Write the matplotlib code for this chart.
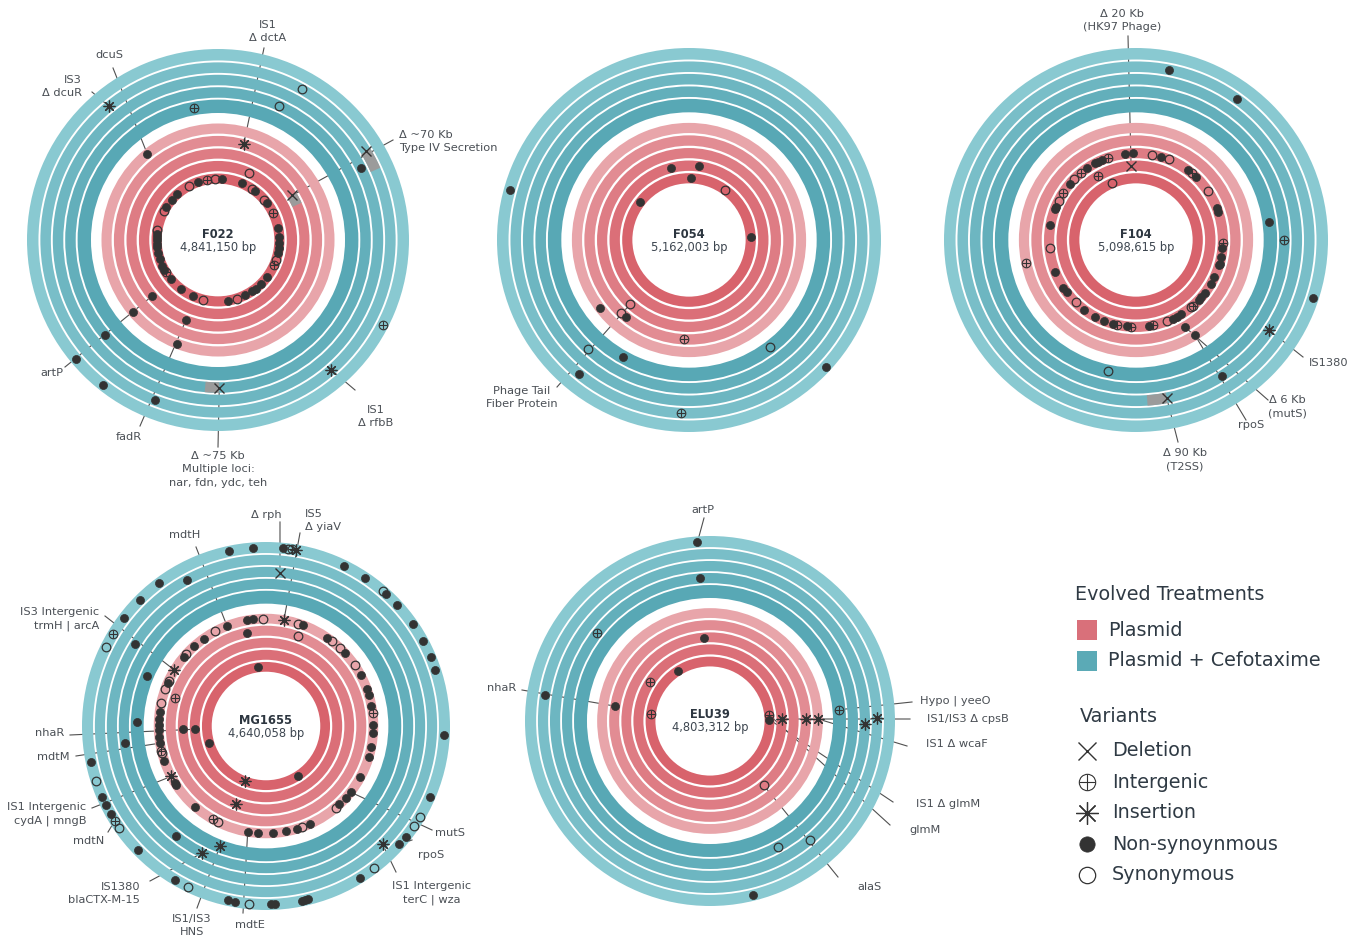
import numpy as np
import matplotlib
matplotlib.use("Agg")
import matplotlib.pyplot as plt
from matplotlib.patches import Wedge, Rectangle

# ------------------------------------------------------------------ data
genome_names = ["F022", "F054", "F104", "MG1655", "ELU39"]
genome_sizes = ["4,841,150 bp", "5,162,003 bp", "5,098,615 bp", "4,640,058 bp", "4,803,312 bp"]

# variants: (position on genome in degrees clockwise from origin, ring, kind)
# ring 1-5 = Plasmid replicates (inner->outer), 6-10 = Plasmid + Cefotaxime
# kind: N non-synonymous, S synonymous, I intergenic, A insertion, D deletion
F022_variants = [
    (340.5, 1, "N"), (350, 1, "I"), (357, 1, "S"), (3.5, 1, "N"), (331.4, 1, "S"),
    (318, 1, "N"), (310.8, 1, "N"), (302.5, 1, "N"), (297.7, 1, "S"), (22.9, 1, "N"),
    (33.6, 1, "S"), (37.5, 1, "N"), (49.2, 1, "S"), (52.6, 1, "N"), (64, 1, "I"),
    (79, 1, "N"), (87, 1, "N"), (92.6, 1, "N"), (97.8, 1, "N"), (102.4, 1, "N"),
    (108.8, 1, "S"), (114.4, 1, "I"), (126.6, 1, "N"), (135.2, 1, "N"), (142.3, 1, "N"),
    (146.5, 1, "N"), (153.7, 1, "N"), (162.4, 1, "S"), (170.7, 1, "N"), (193.9, 1, "S"),
    (203.8, 1, "N"), (217.4, 1, "N"), (230.3, 1, "N"), (238.2, 1, "I"), (241, 1, "N"),
    (245, 1, "N"), (251.9, 1, "N"), (257.9, 1, "N"), (263.9, 1, "N"), (266, 1, "N"),
    (270, 1, "N"), (273, 1, "N"), (276, 1, "N"), (279.2, 1, "S"),
    (24.4, 2, "S"),
    (229.6, 3, "N"), (201.8, 3, "N"), (59, 3, "D"),
    (15, 4, "A"),
    (320.6, 5, "N"), (229.7, 5, "N"), (201.6, 5, "N"),
    (349.8, 6, "I"),
    (24.3, 7, "S"), (229.8, 7, "N"), (179.5, 7, "D"),
    (63.3, 8, "N"),
    (320.8, 9, "A"), (29, 9, "S"), (138.9, 9, "A"), (201.6, 9, "N"), (59, 9, "D"),
    (117.3, 10, "I"), (230, 10, "N"), (218.5, 10, "N"),
]
F054_variants = [
    (1.9, 1, "N"), (35.8, 1, "S"), (307.6, 1, "N"), (87, 1, "N"),
    (345.7, 2, "N"), (7.8, 2, "N"),
    (222.5, 3, "S"),
    (223, 4, "S"), (219.3, 4, "N"), (182.9, 4, "I"),
    (232.6, 5, "N"),
    (209.4, 6, "N"), (143.1, 6, "S"),
    (222.9, 7, "S"),
    (219.4, 9, "N"), (182.7, 9, "I"),
    (285.5, 10, "N"), (132.8, 10, "N"),
]
F104_variants = [
    (336.8, 1, "S"),
    (356.2, 2, "D"), (328.8, 2, "I"),
    (352.4, 3, "N"), (357.8, 3, "N"), (10.9, 3, "S"), (16.7, 3, "N"), (22, 3, "S"),
    (36.6, 3, "N"), (40, 3, "I"), (43.5, 3, "N"), (55.5, 3, "S"), (68.6, 3, "N"),
    (70.9, 3, "N"), (92.2, 3, "I"), (95.6, 3, "N"), (101.2, 3, "N"), (105.7, 3, "N"),
    (107, 3, "N"), (115.4, 3, "N"), (120.6, 3, "N"), (127.9, 3, "N"), (131.1, 3, "N"),
    (133.7, 3, "N"), (139, 3, "I"), (140.5, 3, "S"), (148.5, 3, "N"), (152.2, 3, "N"),
    (154.9, 3, "N"), (159.4, 3, "S"), (168.4, 3, "I"), (171.5, 3, "N"), (183.3, 3, "I"),
    (186.2, 3, "N"), (192.4, 3, "I"), (195.6, 3, "N"), (201.4, 3, "N"), (208, 3, "N"),
    (216.7, 3, "N"), (224, 3, "S"), (233, 3, "N"), (236.6, 3, "N"), (248.2, 3, "N"),
    (264.6, 3, "S"), (279.7, 3, "N"), (290.8, 3, "N"), (292.6, 3, "N"), (296.9, 3, "S"),
    (302.8, 3, "I"), (310.4, 3, "N"), (314.3, 3, "S"), (320.3, 3, "I"), (325.7, 3, "N"),
    (332, 3, "N"), (334.4, 3, "N"), (336.8, 3, "N"), (341.2, 3, "I"),
    (150.7, 4, "N"),
    (148.2, 5, "N"), (257.9, 5, "I"),
    (82.3, 6, "N"), (192, 6, "S"),
    (90, 7, "I"),
    (124.1, 8, "A"), (147.8, 8, "N"), (169, 8, "D"),
    (11, 9, "N"), (35.8, 9, "N"),
    (108.3, 10, "N"),
]
MG1655_variants = [
    (352.7, 1, "N"), (253.3, 1, "N"), (147.1, 1, "N"), (201.3, 1, "A"),
    (267.4, 2, "N"),
    (267.8, 3, "N"), (201.2, 3, "A"),
    (19.5, 4, "S"), (348.4, 4, "N"), (287.3, 4, "I"),
    (9.6, 5, "A"), (349.7, 5, "N"), (353.3, 5, "N"), (358.6, 5, "S"), (17.4, 5, "S"),
    (20.3, 5, "N"), (338.7, 5, "N"), (331.9, 5, "S"), (324.4, 5, "N"), (317.9, 5, "N"),
    (311.9, 5, "S"), (310.2, 5, "N"), (301.4, 5, "A"), (294.9, 5, "S"), (293.6, 5, "N"),
    (290, 5, "S"), (282.2, 5, "S"), (277.6, 5, "N"), (273.6, 5, "N"), (270.5, 5, "N"),
    (267.9, 5, "N"), (264.3, 5, "N"), (260.8, 5, "N"), (256.8, 5, "I"), (255.5, 5, "S"),
    (251.2, 5, "N"), (242, 5, "A"), (237.8, 5, "N"), (236.8, 5, "N"), (221.3, 5, "N"),
    (209.5, 5, "I"), (206.5, 5, "S"), (189.8, 5, "N"), (184.4, 5, "N"), (176.4, 5, "N"),
    (169.3, 5, "N"), (163.3, 5, "N"), (160.5, 5, "S"), (155.7, 5, "N"), (139.5, 5, "S"),
    (136.9, 5, "N"), (132.1, 5, "N"), (128, 5, "N"), (118.6, 5, "N"), (107, 5, "N"),
    (101.4, 5, "N"), (94, 5, "N"), (89.5, 5, "N"), (83.2, 5, "I"), (79.3, 5, "N"),
    (73.3, 5, "N"), (70.1, 5, "N"), (61.7, 5, "N"), (55.6, 5, "S"), (47.4, 5, "N"),
    (43.3, 5, "S"), (38, 5, "S"), (34.5, 5, "N"),
    (292.7, 6, "N"), (272, 6, "N"), (201, 6, "A"),
    (263.3, 7, "N"), (219.4, 7, "N"), (206.7, 7, "A"),
    (5.2, 8, "D"), (302.1, 8, "N"),
    (331.6, 9, "N"), (135.4, 9, "A"),
    (347.9, 10, "N"), (355.8, 10, "N"), (5.5, 10, "N"), (7.1, 10, "S"), (8.5, 10, "I"),
    (9.8, 10, "A"), (26, 10, "N"), (33.7, 10, "N"), (40.8, 10, "S"), (42.3, 10, "N"),
    (47.3, 10, "N"), (55.2, 10, "N"), (61.4, 10, "N"), (67.3, 10, "N"), (71.6, 10, "N"),
    (92.9, 10, "N"), (113.5, 10, "N"), (120.5, 10, "S"), (124.2, 10, "S"), (128.3, 10, "N"),
    (131.6, 10, "N"), (142.8, 10, "S"), (148.2, 10, "N"), (166.3, 10, "N"), (167.4, 10, "N"),
    (168.2, 10, "N"), (177.1, 10, "N"), (178.4, 10, "N"), (185.4, 10, "S"), (190, 10, "N"),
    (192.2, 10, "N"), (205.8, 10, "S"), (210.5, 10, "N"), (226, 10, "N"), (235.3, 10, "S"),
    (237.9, 10, "I"), (240.3, 10, "N"), (243.9, 10, "N"), (246.5, 10, "N"), (251.9, 10, "S"),
    (258.2, 10, "N"), (296.1, 10, "S"), (301, 10, "I"), (307.3, 10, "N"), (315, 10, "N"),
    (323.3, 10, "N"),
]
ELU39_variants = [
    (327.3, 1, "N"), (276.7, 1, "I"), (84.1, 1, "I"), (88.7, 1, "N"),
    (302.8, 2, "I"), (88.4, 2, "A"),
    (355.9, 3, "N"), (140.1, 3, "S"),
    (278.9, 4, "N"), (88.8, 4, "A"),
    (88.9, 5, "A"),
    (85, 6, "I"),
    (356, 7, "N"), (307.8, 7, "I"), (151.8, 7, "S"),
    (91.1, 8, "A"), (140, 8, "S"),
    (279.1, 9, "N"), (89.1, 9, "A"),
    (356, 10, "N"), (166.2, 10, "N"),
]

# large deletions: (start deg, end deg, ring)
F022_deletions = [(59, 66, 9), (59, 66, 3), (179.5, 185, 7)]
F104_deletions = [(169, 176, 8)]

# annotation labels: (text, variant position deg, ring)
F022_labels = [("IS1\nΔ dctA", 15, 4), ("dcuS", 320.6, 5), ("IS3\nΔ dcuR", 320.8, 9),
               ("Δ ~70 Kb\nType IV Secretion", 59, 3), ("artP", 229.6, 3), ("fadR", 201.8, 3),
               ("IS1\nΔ rfbB", 138.9, 9), ("Δ ~75 Kb\nMultiple loci:\nnar, fdn, ydc, teh", 179.5, 7)]
F054_labels = [("Phage Tail\nFiber Protein", 222.5, 3)]
F104_labels = [("Δ 20 Kb\n(HK97 Phage)", 356.2, 2), ("IS1380", 124.1, 8),
               ("Δ 6 Kb\n(mutS)", 150.7, 4), ("rpoS", 148.2, 5), ("Δ 90 Kb\n(T2SS)", 169, 8)]
MG1655_labels = [("Δ rph", 5.2, 8), ("IS5\nΔ yiaV", 9.6, 5), ("mdtH", 338.7, 5),
                 ("IS3 Intergenic\ntrmH | arcA", 301.4, 5), ("nhaR", 267.4, 2), ("mdtM", 260.8, 5),
                 ("IS1 Intergenic\ncydA | mngB", 242, 5), ("mdtN", 237.9, 10),
                 ("IS1380\nblaCTX-M-15", 206.7, 7), ("IS1/IS3\nHNS", 201, 6), ("mdtE", 189.8, 5),
                 ("IS1 Intergenic\nterC | wza", 135.4, 9), ("rpoS", 131.6, 10), ("mutS", 128, 5)]
ELU39_labels = [("artP", 356, 10), ("nhaR", 278.9, 4), ("Hypo | yeeO", 85, 6),
                ("IS1/IS3 Δ cpsB", 88.4, 2), ("IS1 Δ wcaF", 88.9, 5), ("IS1 Δ glmM", 88.7, 1),
                ("glmM", 84.1, 1), ("alaS", 140.1, 3)]

treatments = ["Plasmid", "Plasmid + Cefotaxime"]
variant_kinds = ["Deletion", "Intergenic", "Insertion", "Non-synoynmous", "Synonymous"]

# ------------------------------------------------------------------ layout / style
W, H = 1348, 935
centers = {"F022": (218, 240, 191), "F054": (689, 240, 192), "F104": (1136, 240, 192),
           "MG1655": (266, 726, 184), "ELU39": (710, 721, 185)}
ring_frac = {1: (0.295, 0.348), 2: (0.36, 0.414), 3: (0.426, 0.479), 4: (0.491, 0.545),
             5: (0.557, 0.61), 6: (0.665, 0.735), 7: (0.745, 0.80), 8: (0.81, 0.865),
             9: (0.875, 0.93), 10: (0.94, 1.0)}
ring_col = {1: "#D8636C", 2: "#DB6F78", 3: "#DE7C84", 4: "#E28C93", 5: "#E8A5AA",
            6: "#58A8B5", 7: "#63AFBB", 8: "#6DB6C1", 9: "#79BEC8", 10: "#89C9D1"}
INK = "#333333"
TXT = "#4a4f55"
LABEL_FS = 8.2

# label layout: line end (x, y), text anchor (x, y of first line), ha
label_layout = {
    "F022": [((264, 48), (268, 25), "center"), ((113, 68), (109, 55), "center"),
             ((92, 92), (82, 80), "right"), ((393, 140), (399, 135), "left"),
             ((65, 367), (63, 373), "right"), ((140, 426), (129, 437), "center"),
             ((355, 390), (376, 410), "center"), ((218, 447), (218, 456), "center")],
    "F054": [((557, 387), (522, 391), "center")],
    "F104": [((1128, 36), (1122, 14), "center"), ((1303, 357), (1309, 363), "left"),
             ((1268, 400), (1287, 400), "center"), ((1246, 420), (1251, 425), "center"),
             ((1178, 442), (1185, 453), "center")],
    "MG1655": [((280, 522), (266, 515), "center"), ((300, 533), (305, 514), "left"),
               ((196, 547), (185, 535), "center"), ((105, 616), (99, 612), "right"),
               ((70, 735), (64, 733), "right"), ((76, 756), (70, 757), "right"),
               ((92, 808), (86, 807), "right"), ((108, 832), (104, 841), "right"),
               ((150, 881), (140, 887), "right"), ((197, 908), (192, 919), "center"),
               ((243, 913), (250, 925), "center"), ((396, 872), (432, 886), "center"),
               ((412, 840), (418, 855), "left"), ((432, 830), (435, 833), "left")],
    "ELU39": [((704, 518), (703, 510), "center"), ((522, 690), (516, 688), "right"),
              ((912, 702), (920, 701), "left"), ((910, 719), (927, 719), "left"),
              ((907, 746), (926, 744), "left"), ((893, 802), (916, 804), "left"),
              ((890, 825), (909, 830), "left"), ((838, 877), (857, 887), "left")],
}

variants = {"F022": F022_variants, "F054": F054_variants, "F104": F104_variants,
            "MG1655": MG1655_variants, "ELU39": ELU39_variants}
deletions = {"F022": F022_deletions, "F104": F104_deletions}
labels = {"F022": F022_labels, "F054": F054_labels, "F104": F104_labels,
          "MG1655": MG1655_labels, "ELU39": ELU39_labels}

plt.rcParams["font.family"] = ["DejaVu Sans"]
fig = plt.figure(figsize=(W / 100, H / 100), dpi=100)
ax = fig.add_axes([0, 0, 1, 1])
ax.set_xlim(0, W)
ax.set_ylim(H, 0)
ax.axis("off")


def polar(cx, cy, r, ang):
    t = np.deg2rad(ang)
    return cx + r * np.sin(t), cy - r * np.cos(t)


def draw_marker(x, y, kind, ms_scale=1.0, z=5):
    if kind == "N":
        ax.plot(x, y, "o", ms=5.8 * ms_scale, mfc=INK, mec=INK, mew=0.5, zorder=z)
    elif kind == "S":
        ax.plot(x, y, "o", ms=6.2 * ms_scale, mfc="none", mec=INK, mew=0.9, zorder=z)
    elif kind == "I":
        ax.plot(x, y, "o", ms=6.2 * ms_scale, mfc="none", mec=INK, mew=0.8, zorder=z)
        ax.plot(x, y, "+", ms=6.2 * ms_scale, mec=INK, mew=0.8, zorder=z)
    elif kind == "A":
        ax.plot(x, y, marker=(8, 2, 0), ms=8.5 * ms_scale, mec=INK, mew=0.9, ls="none", zorder=z)
    elif kind == "D":
        ax.plot(x, y, "x", ms=6.5 * ms_scale, mec=INK, mew=1.0, zorder=z)


for gi, name in enumerate(genome_names):
    cx, cy, R = centers[name]
    # rings
    for ring, (f0, f1) in ring_frac.items():
        ax.add_patch(Wedge((cx, cy), R * f1, 0, 360, width=R * (f1 - f0),
                           facecolor=ring_col[ring], edgecolor="none", zorder=2))
    # deletion spans
    for a0, a1, ring in deletions.get(name, []):
        f0, f1 = ring_frac[ring]
        ax.add_patch(Wedge((cx, cy), R * f1, a0 - 90, a1 - 90, width=R * (f1 - f0),
                           facecolor="#9b9b9b", edgecolor="none", zorder=3))
    # leader lines + labels
    for (text, ang, ring), (end, tpos, ha) in zip(labels[name], label_layout[name]):
        r = R * sum(ring_frac[ring]) / 2
        x0, y0 = polar(cx, cy, r, ang)
        ax.plot([x0, end[0]], [y0, end[1]], color="#505050", lw=0.8, zorder=1)
        for li, line in enumerate(text.split("\n")):
            ax.text(tpos[0], tpos[1] + 13.3 * li, line, ha=ha, va="center",
                    fontsize=LABEL_FS, color=TXT, zorder=6)
    # variants
    for ang, ring, kind in variants[name]:
        r = R * sum(ring_frac[ring]) / 2
        x, y = polar(cx, cy, r, ang)
        draw_marker(x, y, kind)
    # centre text
    ax.text(cx, cy - 6, name, ha="center", va="center", fontsize=8.3,
            fontweight="bold", color="#2d3640", zorder=6)
    ax.text(cx, cy + 7, genome_sizes[gi], ha="center", va="center", fontsize=8.3,
            color="#3d4650", zorder=6)

# ------------------------------------------------------------------ legend
LEG = "#2f3a44"
LEG_FS = 13.8
ax.text(1075, 595, "Evolved Treatments", ha="left", va="center", fontsize=LEG_FS, color=LEG)
for i, (lab, col) in enumerate(zip(treatments, ["#D9707A", "#5BAAB6"])):
    y = 630 + 31 * i
    ax.add_patch(Rectangle((1077, y - 10), 20, 20, facecolor=col, edgecolor="none"))
    ax.text(1108, y, lab, ha="left", va="center", fontsize=LEG_FS, color=LEG)
ax.text(1080, 716, "Variants", ha="left", va="center", fontsize=LEG_FS, color=LEG)
for i, (lab, kind) in enumerate(zip(variant_kinds, ["D", "I", "A", "N", "S"])):
    y = 751 + 31 * i
    draw_marker(1087, y, kind, ms_scale=1.9)
    ax.text(1112, y, lab, ha="left", va="center", fontsize=LEG_FS, color=LEG)

fig.savefig("out.png", dpi=100, facecolor="white")
